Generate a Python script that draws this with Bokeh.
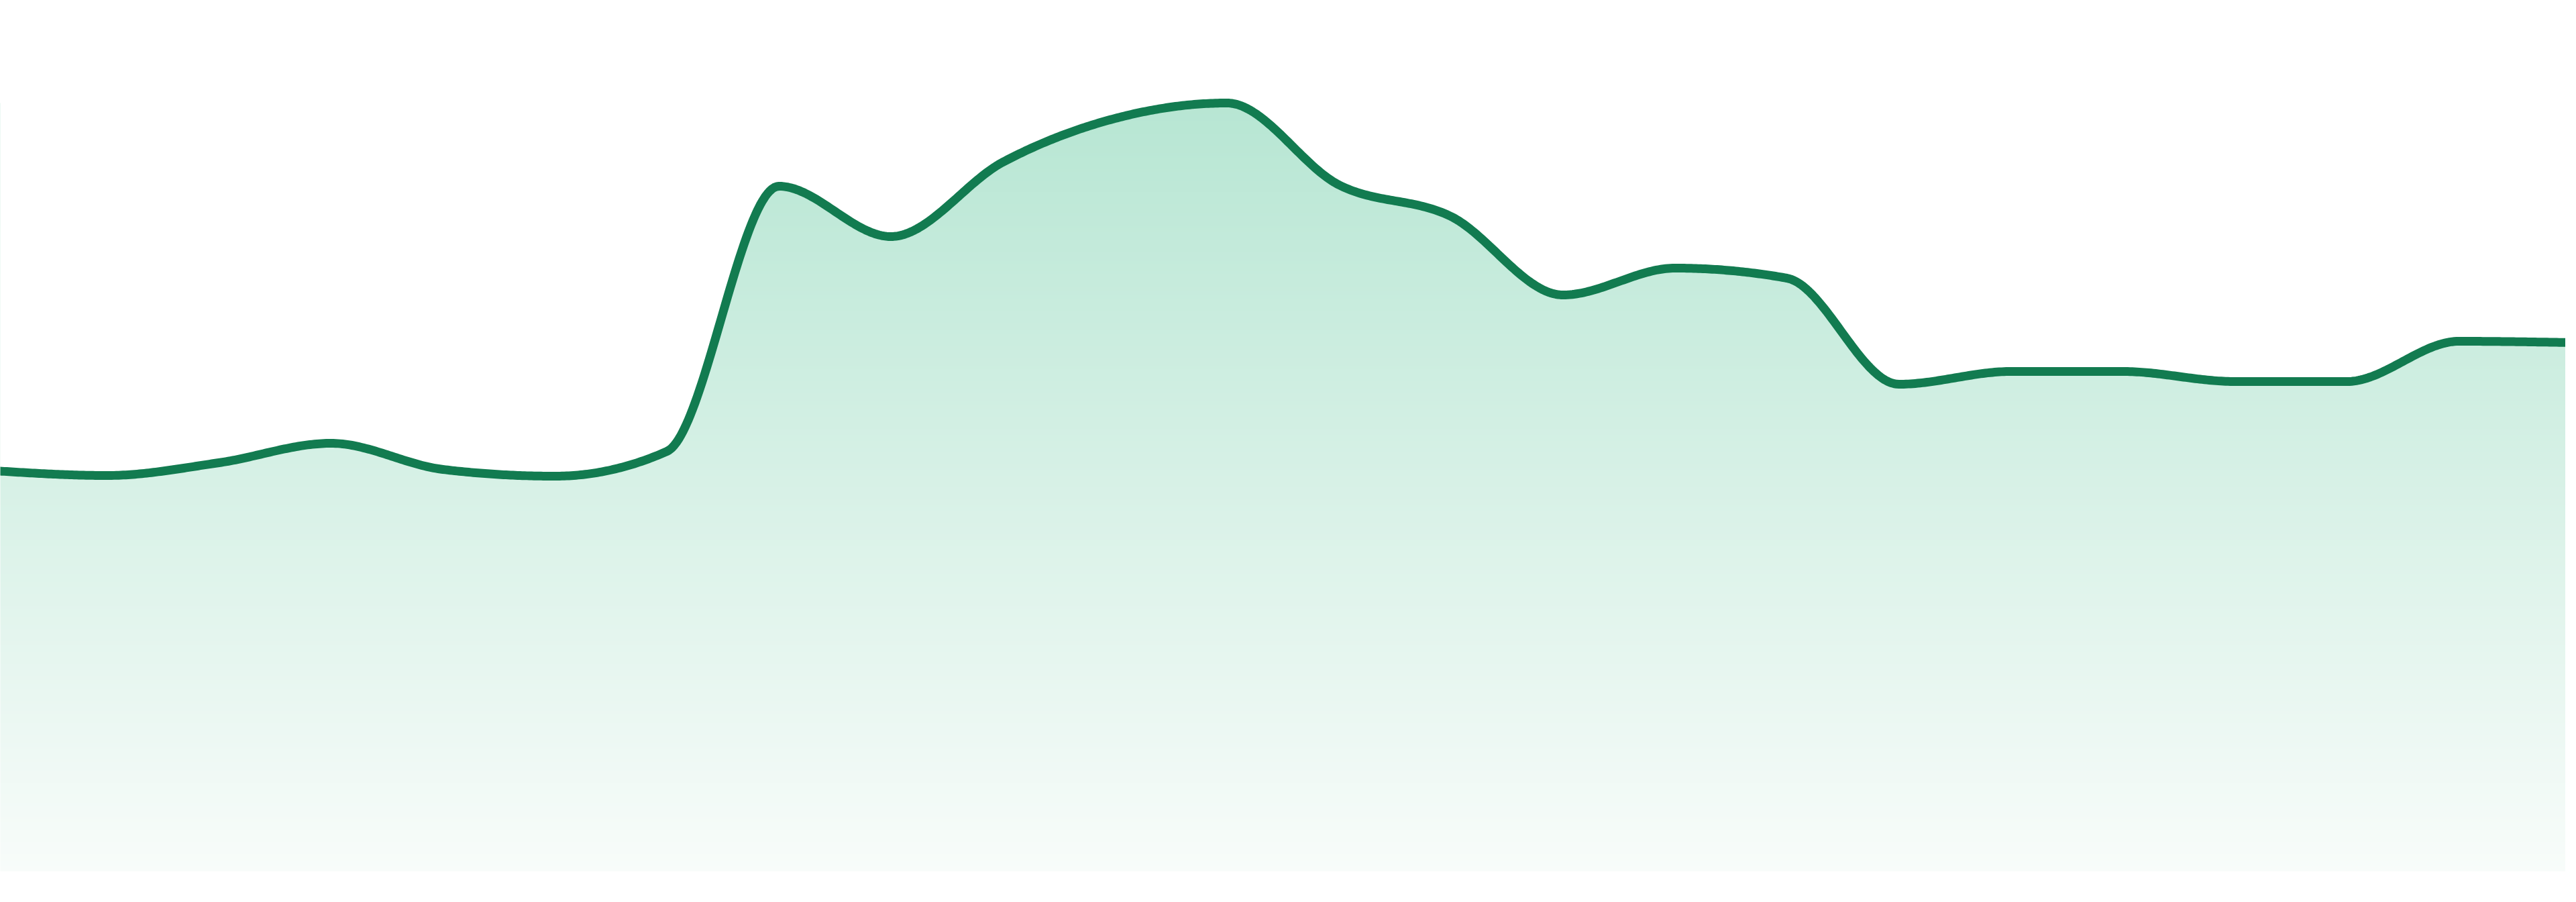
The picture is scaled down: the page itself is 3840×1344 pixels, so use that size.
import numpy as np
from bokeh.plotting import figure
from bokeh.models import Range1d, ColumnDataSource
from bokeh.embed import file_html
from bokeh.resources import INLINE

# ---- data -------------------------------------------------------------
periods = list(range(24))
values = [59.7, 59.0, 60.9, 63.8, 59.9, 58.9, 62.6, 102.1, 94.6, 105.7,
          112.2, 114.5, 102.3, 97.6, 85.9, 89.9, 88.4, 72.6, 74.5, 74.5,
          73.0, 73.0, 79.0, 78.8]

# ---- style ------------------------------------------------------------
LINE_COLOR = "#127b50"
FILL_TOP = (183, 230, 211)
FILL_BOTTOM = (248, 252, 250)
W, H = 3824, 1328
PAGE_W = 3840.0
Y_MAX = 129.8


def monotone_x(xs, ys, samples=48):
    """d3.curveMonotoneX rendered as a dense polyline."""
    xs = np.asarray(xs, float)
    ys = np.asarray(ys, float)
    n = len(xs)
    h = np.diff(xs)
    s = np.diff(ys) / h
    t = np.zeros(n)
    sign = lambda v: -1.0 if v < 0 else 1.0
    for i in range(1, n - 1):
        p = (s[i - 1] * h[i] + s[i] * h[i - 1]) / (h[i - 1] + h[i])
        t[i] = (sign(s[i - 1]) + sign(s[i])) * min(abs(s[i - 1]), abs(s[i]), 0.5 * abs(p))
    t[0] = (3 * s[0] - t[1]) / 2
    t[-1] = (3 * s[-1] - t[-2]) / 2
    out_x, out_y = [], []
    for i in range(n - 1):
        dx = h[i] / 3
        p0 = (xs[i], ys[i])
        p1 = (xs[i] + dx, ys[i] + dx * t[i])
        p2 = (xs[i + 1] - dx, ys[i + 1] - dx * t[i + 1])
        p3 = (xs[i + 1], ys[i + 1])
        u = np.linspace(0, 1, samples, endpoint=(i == n - 2))
        a = (1 - u) ** 3
        b = 3 * (1 - u) ** 2 * u
        c = 3 * (1 - u) * u ** 2
        d = u ** 3
        out_x.extend(a * p0[0] + b * p1[0] + c * p2[0] + d * p3[0])
        out_y.extend(a * p0[1] + b * p1[1] + c * p2[1] + d * p3[1])
    return np.array(out_x), np.array(out_y)


cx, cy = monotone_x(periods, values)

span = periods[-1] - periods[0]
unit = PAGE_W / span              # pixels per period in the original full-bleed layout
x0 = periods[0] + 8 / unit
x1 = periods[0] + (8 + W) / unit

p = figure(width=W, height=H, output_backend="svg", toolbar_location=None,
           x_range=Range1d(x0, x1), y_range=Range1d(0, Y_MAX),
           x_axis_location=None, y_axis_location=None,
           min_border_left=0, min_border_right=0, min_border_top=0, min_border_bottom=30)
p.grid.visible = False
p.outline_line_color = None
p.background_fill_color = "white"
p.border_fill_color = "white"

# vertical gradient (bottom row first)
top_val = max(values)
N = 512
img = np.empty((N, 1), dtype=np.uint32)
view = img.view(dtype=np.uint8).reshape((N, 1, 4))
f = np.linspace(0, 1, N)
for k in range(3):
    view[:, 0, k] = np.round(FILL_BOTTOM[k] + (FILL_TOP[k] - FILL_BOTTOM[k]) * f).astype(np.uint8)
view[:, 0, 3] = 255
p.image_rgba(image=[img], x=periods[0], y=0, dw=span, dh=top_val)

# white mask above the curve
mask_x = np.concatenate([cx, [periods[-1] + 1, periods[-1] + 1, periods[0] - 1, periods[0] - 1]])
mask_y = np.concatenate([cy, [cy[-1], Y_MAX + 10, Y_MAX + 10, cy[0]]])
p.patch(mask_x, mask_y, fill_color="white", line_color=None)

# the line
src = ColumnDataSource(dict(x=cx, y=cy))
p.line("x", "y", source=src, line_color=LINE_COLOR, line_width=13, line_join="round")

open("out.html", "w").write(file_html(p, INLINE))
